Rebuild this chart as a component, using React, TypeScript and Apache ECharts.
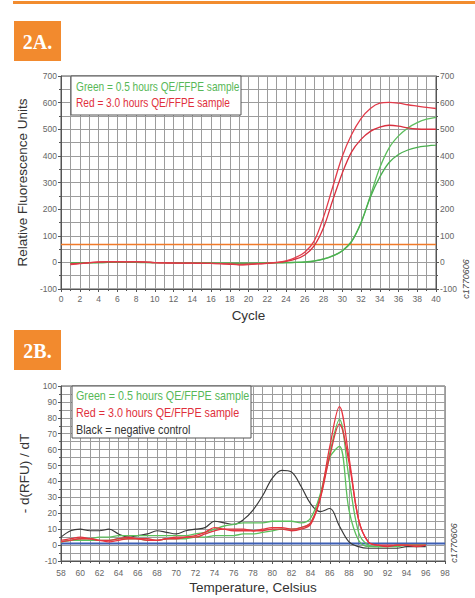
import React, { useEffect, useRef } from "react";
import * as echarts from "echarts";

// ---------- Panel 2A: amplification curves ----------
const cycles = [1, 2, 3, 4, 5, 6, 7, 8, 9, 10, 11, 12, 13, 14, 15, 16, 17, 18, 19, 20, 21, 22, 23, 24, 25, 26, 27, 28, 29, 30, 31, 32, 33, 34, 35, 36, 37, 38, 39, 40];
const redHigh = [-8, -5, -2, 2, 3, 3, 2, 3, 2, -1, -2, -2, -3, -3, -3, -4, -5, -6, -8, -7, -5, -3, 0, 6, 18, 38, 80, 170, 285, 398, 480, 540, 578, 598, 601, 598, 592, 587, 582, 578];
const redLow = [-6, -4, -1, 1, 2, 2, 2, 2, 1, -1, -2, -3, -3, -3, -4, -4, -5, -7, -9, -8, -6, -4, -1, 4, 12, 28, 62, 130, 235, 335, 415, 462, 492, 508, 515, 512, 505, 501, 500, 500];
const greenHigh = [-3, -2, -2, -1, 0, 0, 0, 0, -1, -1, -1, -2, -2, -2, -2, -3, -3, -3, -4, -4, -3, -2, -2, -1, 0, 2, 6, 13, 25, 44, 80, 150, 250, 355, 430, 475, 505, 525, 538, 545];
const greenLow = [-2, -2, -1, -1, 0, 0, 0, 0, 0, -1, -1, -1, -2, -2, -2, -2, -3, -3, -3, -3, -3, -2, -1, -1, 0, 1, 5, 12, 24, 43, 78, 148, 245, 320, 375, 405, 422, 432, 437, 440];
const thresholdRFU = 67;
const cycleRange = [0, 40];

// ---------- Panel 2B: melt curves ----------
const temps = [58, 59, 60, 61, 62, 63, 64, 65, 66, 67, 68, 69, 70, 71, 72, 73, 74, 75, 76, 77, 78, 79, 80, 81, 82, 83, 84, 85, 86, 87, 88, 89, 90, 91, 92, 93, 94, 95, 96];
const meltBlack = [5, 9, 10, 9, 9, 10, 7, 5, 6, 7, 9, 8, 7, 9, 10, 11, 15, 14, 13, 16, 22, 31, 42, 47, 46, 37, 26, 21, 23, 12, 2, -1, -2, -2, -2, -2, -1, -1, -1];
const meltRedA = [2, 3, 4, 4, 3, 2, 3, 4, 4, 3, 3, 4, 4, 5, 6, 8, 11, 10, 9, 9, 9, 10, 11, 11, 10, 11, 14, 30, 62, 87, 55, 16, 2, 0, 0, 0, 0, 0, 0];
const meltRedB = [3, 4, 5, 4, 3, 3, 4, 5, 4, 4, 3, 4, 5, 5, 5, 7, 9, 10, 10, 10, 9, 9, 10, 10, 9, 10, 13, 29, 56, 76, 52, 16, 2, 0, -1, 0, 0, -1, 0];
const meltGreenA = [2, 3, 4, 4, 5, 5, 6, 6, 6, 6, 6, 6, 6, 6, 7, 8, 10, 12, 13, 14, 14, 14, 15, 15, 15, 14, 17, 32, 58, 79, 42, 8, 0, -1, -1, 0, 0, 0, 0];
const meltGreenB = [2, 3, 3, 3, 3, 3, 4, 4, 4, 3, 3, 4, 4, 4, 5, 5, 6, 6, 6, 7, 7, 8, 9, 10, 10, 11, 14, 30, 55, 62, 22, 3, -1, -1, -1, -1, 0, 0, 0];
const baselineLevel = 1;
const tempRange = [58, 98];

const FONT = '"Liberation Sans", Arial, sans-serif';
const GRID_COLOR = "#9c9c9c";
const AXIS_COLOR = "#555";

function pairs(xs: number[], ys: number[]) {
  return xs.map((x, i) => [x, ys[i]]);
}

function lineSeries(name: string, data: number[][], color: string, xi: number, yi: number, width = 1.3, smooth: number | boolean = 0.35) {
  return {
    name,
    type: "line",
    xAxisIndex: xi,
    yAxisIndex: yi,
    data,
    smooth,
    symbol: "none",
    showSymbol: false,
    lineStyle: { color, width },
    itemStyle: { color },
  };
}

function valueAxis(extra: any) {
  return {
    type: "value",
    axisLine: { show: true, onZero: false, lineStyle: { color: AXIS_COLOR } },
    axisTick: { show: true, length: 3, lineStyle: { color: AXIS_COLOR } },
    minorTick: { show: true, splitNumber: 2, length: 2, lineStyle: { color: AXIS_COLOR } },
    splitLine: { show: true, lineStyle: { color: GRID_COLOR, width: 1 } },
    minorSplitLine: { show: true, lineStyle: { color: GRID_COLOR, width: 1 } },
    axisLabel: { fontSize: 8.5, color: "#666", fontFamily: FONT },
    nameTextStyle: { fontSize: 13.5, color: "#333", fontFamily: FONT },
    ...extra,
  };
}

export default function App() {
  const ref = useRef<HTMLDivElement>(null);

  useEffect(() => {
    if (!ref.current) return;
    const chart = echarts.init(ref.current, undefined, { renderer: "svg" });

    const option: any = {
      animation: false,
      backgroundColor: "#ffffff",
      grid: [
        { left: 61, top: 76, width: 375, height: 213, show: true, borderColor: AXIS_COLOR, borderWidth: 1 },
        { left: 61, top: 386, width: 384, height: 175, show: true, borderColor: AXIS_COLOR, borderWidth: 1 },
      ],
      xAxis: [
        valueAxis({
          gridIndex: 0, min: cycleRange[0], max: cycleRange[1], interval: 2,
          axisLabel: { fontSize: 8.5, color: "#666", fontFamily: FONT, margin: 5 },
          name: "Cycle", nameLocation: "middle", nameGap: 19,
        }),
        valueAxis({
          gridIndex: 1, min: tempRange[0], max: tempRange[1], interval: 2,
          axisLabel: { fontSize: 8.5, color: "#666", fontFamily: FONT, margin: 7 },
          name: "Temperature, Celsius", nameLocation: "middle", nameGap: 19,
        }),
      ],
      yAxis: [
        valueAxis({
          gridIndex: 0, min: -100, max: 700, interval: 100,
          axisLabel: { fontSize: 8.5, color: "#666", fontFamily: FONT, margin: 4 },
          name: "Relative Fluorescence Units", nameLocation: "middle", nameGap: 24,
        }),
        valueAxis({
          gridIndex: 0, min: -100, max: 700, interval: 100, position: "right",
          splitLine: { show: false }, minorSplitLine: { show: false },
          axisLabel: { fontSize: 8.5, color: "#666", fontFamily: FONT, margin: 4 },
        }),
        valueAxis({
          gridIndex: 1, min: -10, max: 100, interval: 10,
          axisLabel: { fontSize: 8.5, color: "#666", fontFamily: FONT, margin: 4 },
          name: "- d(RFU) / dT", nameLocation: "middle", nameGap: 21,
        }),
      ],
      series: [
        lineSeries("threshold", [[cycleRange[0], thresholdRFU], [cycleRange[1], thresholdRFU]], "#f07a28", 0, 0, 1.6, false),
        lineSeries("green high", pairs(cycles, greenHigh), "#5dbd5d", 0, 0),
        lineSeries("green low", pairs(cycles, greenLow), "#4aaf4f", 0, 0),
        lineSeries("red low", pairs(cycles, redLow), "#d8303f", 0, 0),
        lineSeries("red high", pairs(cycles, redHigh), "#e23b4a", 0, 0),

        lineSeries("baseline", [[tempRange[0], baselineLevel], [tempRange[1], baselineLevel]], "#3d5fb5", 1, 2, 2, false),
        lineSeries("black", pairs(temps, meltBlack), "#3a3a3a", 1, 2, 1.2),
        lineSeries("green A", pairs(temps, meltGreenA), "#5cc05c", 1, 2),
        lineSeries("green B", pairs(temps, meltGreenB), "#5cc05c", 1, 2),
        lineSeries("red B", pairs(temps, meltRedB), "#e0343f", 1, 2),
        lineSeries("red A", pairs(temps, meltRedA), "#e8343f", 1, 2),
      ],
      graphic: [
        { type: "rect", shape: { x: 13, y: 1, width: 462, height: 3 }, style: { fill: "#f28c2f" } },
        { type: "rect", shape: { x: 14, y: 21, width: 47, height: 40 }, style: { fill: "#f28a2e" } },
        { type: "text", x: 37.5, y: 41.5, style: { text: "2A.", fill: "#fff", font: 'bold 20px "Liberation Serif", "DejaVu Serif", serif', align: "center", verticalAlign: "middle" } },
        { type: "rect", shape: { x: 14, y: 330, width: 47, height: 40 }, style: { fill: "#f28a2e" } },
        { type: "text", x: 37.5, y: 350.5, style: { text: "2B.", fill: "#fff", font: 'bold 20px "Liberation Serif", "DejaVu Serif", serif', align: "center", verticalAlign: "middle" } },

        { type: "rect", z: 100, shape: { x: 71, y: 76, width: 170, height: 39 }, style: { fill: "#fff", stroke: "#555", lineWidth: 1 } },
        { type: "text", z: 101, x: 76, y: 87, scaleX: 0.845, style: { text: "Green = 0.5 hours QE/FFPE sample", fill: "#57b857", font: `12px ${FONT}`, verticalAlign: "middle" } },
        { type: "text", z: 101, x: 76, y: 103, scaleX: 0.845, style: { text: "Red = 3.0 hours QE/FFPE sample", fill: "#e0303c", font: `12px ${FONT}`, verticalAlign: "middle" } },

        { type: "rect", z: 100, shape: { x: 72, y: 386, width: 179, height: 52 }, style: { fill: "#fff", stroke: "#555", lineWidth: 1 } },
        { type: "text", z: 101, x: 76, y: 395.5, scaleX: 0.86, style: { text: "Green = 0.5 hours QE/FFPE sample", fill: "#57b857", font: `12.5px ${FONT}`, verticalAlign: "middle" } },
        { type: "text", z: 101, x: 76, y: 412.5, scaleX: 0.86, style: { text: "Red = 3.0 hours QE/FFPE sample", fill: "#e0303c", font: `12.5px ${FONT}`, verticalAlign: "middle" } },
        { type: "text", z: 101, x: 76, y: 429.5, scaleX: 0.86, style: { text: "Black = negative control", fill: "#333", font: `12.5px ${FONT}`, verticalAlign: "middle" } },

        { type: "text", x: 466, y: 279, rotation: Math.PI / 2, style: { text: "c1770606", fill: "#444", font: `italic 9px ${FONT}`, align: "center", verticalAlign: "middle" } },
        { type: "text", x: 454, y: 543, rotation: Math.PI / 2, style: { text: "c1770606", fill: "#444", font: `italic 9px ${FONT}`, align: "center", verticalAlign: "middle" } },
      ],
    };

    chart.setOption(option);
    return () => chart.dispose();
  }, []);

  return (
    <div style={{ position: "fixed", left: 0, top: 0, width: 475, height: 598, background: "#fff" }}>
      <div ref={ref} style={{ width: 475, height: 598 }} />
    </div>
  );
}
